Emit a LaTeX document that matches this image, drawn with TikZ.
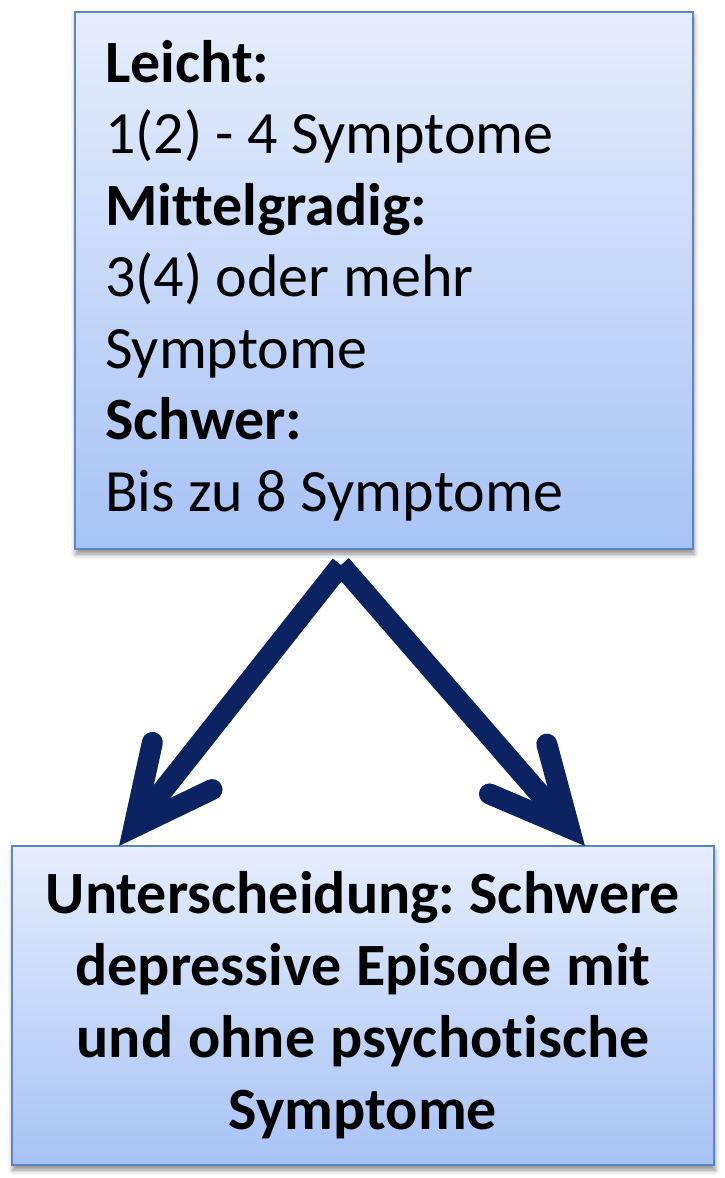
\documentclass[tikz,border=0pt]{standalone}
\usepackage{fontspec}
\setmainfont[Ligatures=NoCommon]{Carlito}
\usetikzlibrary{arrows.meta,shadows.blur}
\definecolor{boxtop}{HTML}{E6EDFC}
\definecolor{boxbot}{HTML}{A7C3F6}
\definecolor{boxline}{HTML}{5A86C6}
\definecolor{navy}{HTML}{0B2360}
\newcommand{\tightsp}{\spaceskip=0.226em plus 0.05em\relax\xspaceskip=0.226em plus 0.05em\relax}
\tikzset{
  infobox/.style={draw=boxline, line width=2.5pt, top color=boxtop, bottom color=boxbot,
    blur shadow={shadow xshift=1pt, shadow yshift=-5pt, shadow blur radius=5pt, shadow opacity=45},
    inner sep=0pt},
  bigarrow/.style={draw=navy, line width=21pt, line cap=butt,
    -{Straight Barb[length=78pt, width=76pt, line cap=round, line join=miter]}}
}
\begin{document}
\begin{tikzpicture}[x=1pt,y=-1pt]
\useasboundingbox (0,0) rectangle (724,1178);
\node[infobox, minimum width=618pt, minimum height=537pt, text width=558pt, align=left,
  font=\fontsize{60}{71.5}\selectfont] (top) at (384,280.5)
  {\tightsp\textbf{Leicht:}\\1(2) - 4 Symptome\\\textbf{Mittelgradig:}\\3(4) oder mehr\\Symptome\\\textbf{Schwer:}\\Bis zu 8 Symptome};
\node[infobox, minimum width=702pt, minimum height=319pt, text width=690pt, align=center,
  font=\bfseries\fontsize{60}{72}\selectfont] (bot) at (363,1005.5)
  {\tightsp Unterscheidung: Schwere\\depressive Episode mit\\und ohne psychotische\\Symptome};
\coordinate (apex) at (341,565);
\coordinate (lt) at (119,846);
\coordinate (rt) at (585,846);
\draw[bigarrow] (apex) -- (lt);
\draw[bigarrow] (apex) -- (rt);
\end{tikzpicture}
\end{document}
